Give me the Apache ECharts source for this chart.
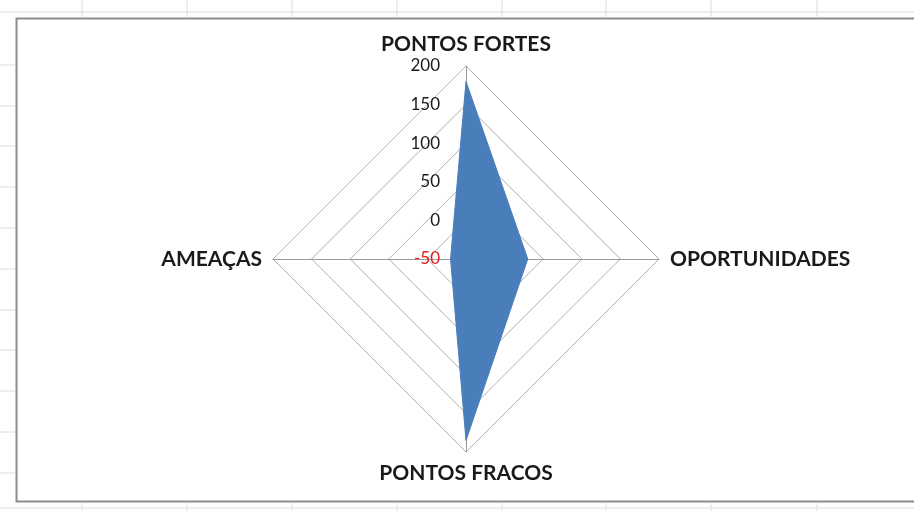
<!DOCTYPE html>
<html>
<head>
<meta charset="utf-8">
<title>Análise SWOT</title>
<script src="https://cdn.jsdelivr.net/npm/echarts@6/dist/echarts.min.js"></script>
<style>
  html, body { margin: 0; padding: 0; background: #fff; }
  #chart { width: 914px; height: 511px; }
</style>
</head>
<body>
<div id="chart"></div>
<script>
// dados do gráfico
const categorias = ['PONTOS FORTES', 'AMEAÇAS', 'PONTOS FRACOS', 'OPORTUNIDADES'];
const valores = [180, -30, 185, 30];
const escalaMin = -50;
const escalaMax = 200;

// linhas da folha de cálculo (só decoração)
const colunasX = [82, 187, 292, 397, 502, 606, 711, 817];
const linhasY = [65, 106, 146, 187, 228, 269, 310, 350, 391, 432, 473];

const chart = echarts.init(document.getElementById('chart'));

const grelha = [];
colunasX.forEach(function (x) {
    grelha.push({ type: 'line', shape: { x1: x, y1: 0, x2: x, y2: 18 }, style: { stroke: '#dcdcdc', lineWidth: 1 } });
    grelha.push({ type: 'line', shape: { x1: x, y1: 502, x2: x, y2: 511 }, style: { stroke: '#dcdcdc', lineWidth: 1 } });
});
grelha.push({ type: 'line', shape: { x1: 0, y1: 12, x2: 914, y2: 12 }, style: { stroke: '#dcdcdc', lineWidth: 1 } });
grelha.push({ type: 'line', shape: { x1: 0, y1: 508, x2: 914, y2: 508 }, style: { stroke: '#dcdcdc', lineWidth: 1 } });
linhasY.forEach(function (y) {
    grelha.push({ type: 'line', shape: { x1: 0, y1: y, x2: 15, y2: y }, style: { stroke: '#dcdcdc', lineWidth: 1 } });
});
// moldura do gráfico
grelha.push({
    type: 'rect',
    shape: { x: 16.5, y: 18.5, width: 920, height: 483 },
    style: { fill: '#fff', stroke: '#8c8c8c', lineWidth: 2 },
    z: -1
});

const option = {
    backgroundColor: '#fff',
    animation: false,
    graphic: { elements: grelha },
    radar: {
        center: [466, 259],
        radius: 193,
        startAngle: 90,
        shape: 'polygon',
        splitNumber: 5,
        nameGap: 11,
        axisName: {
            color: '#1a1a1a',
            fontFamily: 'Lato',
            fontWeight: 'bold',
            fontSize: 21
        },
        indicator: categorias.map(function (nome, i) {
            const ind = { name: nome, min: escalaMin, max: escalaMax };
            if (i === 0) {
                ind.axisLabel = {
                    show: true,
                    margin: 26,
                    fontFamily: 'Lato',
                    fontSize: 17,
                    color: function (v) { return Number(v) < 0 ? '#e02020' : '#1a1a1a'; }
                };
            }
            return ind;
        }),
        axisLine: { lineStyle: { color: '#9a9a9a', width: 1 } },
        splitLine: { lineStyle: { color: '#b0b0b0', width: 1 } },
        splitArea: { show: false },
        axisTick: { show: false },
        axisLabel: { show: false }
    },
    series: [{
        type: 'radar',
        symbol: 'none',
        lineStyle: { color: '#4a7ebb', width: 1 },
        areaStyle: { color: '#4a7ebb', opacity: 1 },
        data: [{ value: valores, name: 'SWOT' }]
    }]
};

chart.setOption(option);
</script>
</body>
</html>
